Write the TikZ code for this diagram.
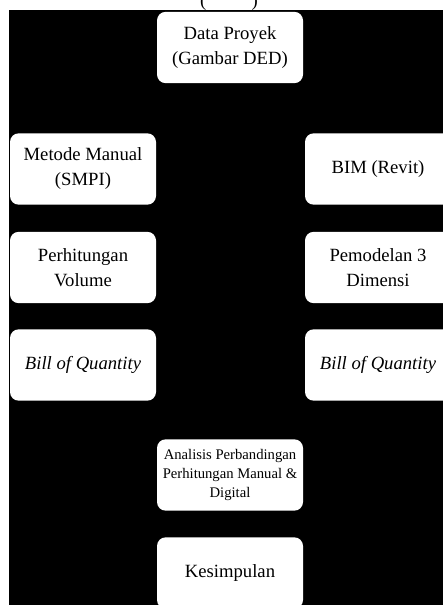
\documentclass[tikz,border=0pt]{standalone}
\usepackage{fontspec}
\setmainfont{Liberation Serif}
\tikzset{
  kotak/.style={fill=white,rounded corners=6.5pt,minimum width=109.5pt,
    minimum height=53.5pt,align=center,inner sep=2pt,
    font=\fontsize{14}{18.75}\selectfont},
  kotakkecil/.style={kotak,font=\fontsize{11}{13.9}\selectfont}
}

\begin{document}
\begin{tikzpicture}[x=0.75pt,y=-0.75pt]
\useasboundingbox (0,0) rectangle (443,605);
\clip (0,0) rectangle (443,605);

\fill[black] (9,10) rectangle (443,605);
\node[font=\fontsize{14}{17}\selectfont,anchor=base] (judul) at (229,7) {(\hspace{34pt})};

\node[kotak] (data) at (230,47.5) {Data Proyek\\(Gambar DED)};

\node[kotak] (manual) at (83,169) {Metode Manual\\(SMPI)};
\node[kotak] (volume) at (83,267.5) {Perhitungan\\Volume};
\node[kotak] (boqkiri) at (83,365) {\itshape Bill of Quantity};

\node[kotak] (bim) at (378,169) {BIM (Revit)};
\node[kotak] (model) at (378,267.5) {Pemodelan 3\\Dimensi};
\node[kotak] (boqkanan) at (378,365) {\itshape Bill of Quantity};

\node[kotakkecil] (analisis) at (230,475) {Analisis Perbandingan\\Perhitungan Manual \&\\Digital};
\node[kotak] (simpulan) at (230,573) {Kesimpulan};

\end{tikzpicture}
\end{document}
